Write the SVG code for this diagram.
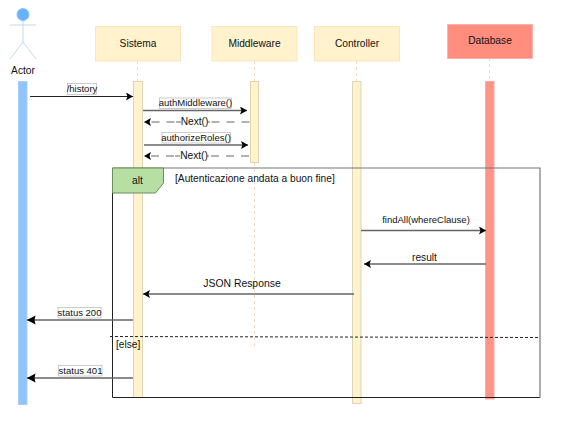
<svg xmlns="http://www.w3.org/2000/svg" width="562" height="423" viewBox="0 0 562 423">
<style>
text{font-family:"Liberation Sans",Arial,sans-serif;font-size:9.5px;fill:#111}
.m{text-anchor:middle}
.big{font-size:10.2px}
.head{fill:#fff2cc;stroke:#fce5bd;stroke-width:1}
.bar{fill:#fff2cc;stroke:#ddd6b4;stroke-width:1}
.life{stroke:#f6d9c4;stroke-width:1;stroke-dasharray:3 3;fill:none}
.msg{stroke:#666;stroke-width:1.3;fill:none;marker-end:url(#a)}
.st{stroke:#666;stroke-width:1.3;fill:none;marker-end:url(#b)}
.ret{stroke:#666;stroke-width:1.2;fill:none;stroke-dasharray:8 7;marker-end:url(#a)}
.lab{fill:#fff;stroke:#999;stroke-width:.5}
</style>
<defs>
<marker id="a" markerUnits="userSpaceOnUse" markerWidth="9" markerHeight="9" refX="7" refY="4" orient="auto"><path d="M0 0L7 4L0 8L1.5 4Z" fill="#000"/></marker>
<marker id="b" markerUnits="userSpaceOnUse" markerWidth="10" markerHeight="10" refX="8.500" refY="4.500" orient="auto"><path d="M0 0L8.500 4.500L0 9L1 4.500Z" fill="#000"/></marker>
</defs>
<g id="lifelines">
<path class="life" d="M137.500 61V348M254.500 61V348M356.500 61V348M489.500 58V348"/>
</g>
<g id="actor">
<circle cx="23" cy="14.500" r="6" fill="#66b2ff" stroke="#8fc4f7"/>
<path d="M23 21V42M10 25H36M23 42L10 59M23 42L36 59" fill="none" stroke="#c3d8f0" stroke-width="1"/>
<text x="23" y="74" class="m big">Actor</text>
<rect x="18.500" y="81.500" width="8.500" height="323" fill="#8fc4ff" stroke="#a9cdf5"/>
</g>
<g id="sistema">
<rect class="head" x="95.500" y="26.500" width="85" height="34.500"/>
<text x="138" y="47" class="m big">Sistema</text>
<rect class="bar" x="133.500" y="81.500" width="9" height="316"/>
</g>
<g id="middleware">
<rect class="head" x="212" y="26.500" width="85" height="34.500"/>
<text x="254.500" y="47" class="m big">Middleware</text>
<rect class="bar" x="250.500" y="81.500" width="8" height="81"/>
</g>
<g id="controller">
<rect class="head" x="314.500" y="26.500" width="85" height="34.500"/>
<text x="357" y="47" class="m big">Controller</text>
<rect class="bar" x="352.500" y="81.500" width="8.500" height="322"/>
</g>
<g id="database">
<rect x="447.500" y="24.500" width="85" height="34" fill="#ff8e7f" stroke="#ffb3a8"/>
<text x="490" y="44" class="m big">Database</text>
<rect x="485.500" y="81.500" width="8.500" height="317.500" fill="#ff9388" stroke="#ffa89e"/>
</g>
<g id="alt-frame">
<path d="M112.500 168V397.500H540" fill="none" stroke="#222" stroke-width="1"/>
<path d="M112.500 168H540V397.500" fill="none" stroke="#777" stroke-width="1.200"/>
<path d="M112.500 168H163.500V183L155.500 193H112.500Z" fill="#b7dfa4" stroke="#6b8f5a"/>
<text x="137.500" y="184" class="m big">alt</text>
<text x="175" y="182" class="big">[Autenticazione andata a buon fine]</text>
<path d="M110 336.500L540 337.500" fill="none" stroke="#222" stroke-width="1" stroke-dasharray="3 2"/>
<text x="116" y="348" class="big">[else]</text>
</g>
<g id="connectors">
<path d="M30 96.500H133" stroke="#222" stroke-width="1" fill="none" marker-end="url(#a)"/>
<path class="msg" d="M143 110.500H247"/>
<path class="ret" d="M249.500 122H144"/>
<path class="msg" d="M144 145H248"/>
<path class="ret" d="M249 156H144"/>
<path class="msg" d="M361 230.500H486"/>
<path class="msg" d="M486 264H364"/>
<path class="msg" d="M354 294H143"/>
<path class="st" d="M133 320H27"/>
<path class="st" d="M133 378H27"/>
</g>
<g id="labels">
<rect class="lab" x="67.500" y="83.500" width="29" height="11"/>
<text x="82" y="92" class="m">/history</text>
<rect class="lab" x="159.500" y="98" width="72" height="10.500"/>
<text x="195.500" y="106" class="m">authMiddleware()</text>
<rect x="181" y="116" width="27" height="12" fill="#fff"/>
<path d="M176 122H181M208 122H210" stroke="#666" stroke-width="1"/>
<text x="194.500" y="124.500" class="m big">Next()</text>
<rect class="lab" x="162" y="132.500" width="68.500" height="10.500"/>
<text x="196" y="141" class="m">authorizeRoles()</text>
<rect x="180" y="150" width="27" height="12" fill="#fff"/>
<path d="M175 156H180M207 156H209" stroke="#666" stroke-width="1"/>
<text x="194" y="158.500" class="m big">Next()</text>
<text x="426" y="223" class="m">findAll(whereClause)</text>
<text x="424.500" y="261" class="m big">result</text>
<text x="242" y="286.500" class="m" style="font-size:10.400px">JSON Response</text>
<rect class="lab" x="58" y="307.500" width="43" height="10.500"/>
<text x="79.500" y="315.500" class="m">status 200</text>
<rect class="lab" x="58.500" y="365.500" width="43.500" height="10.500"/>
<text x="80.500" y="373.500" class="m">status 401</text>
</g>
</svg>
